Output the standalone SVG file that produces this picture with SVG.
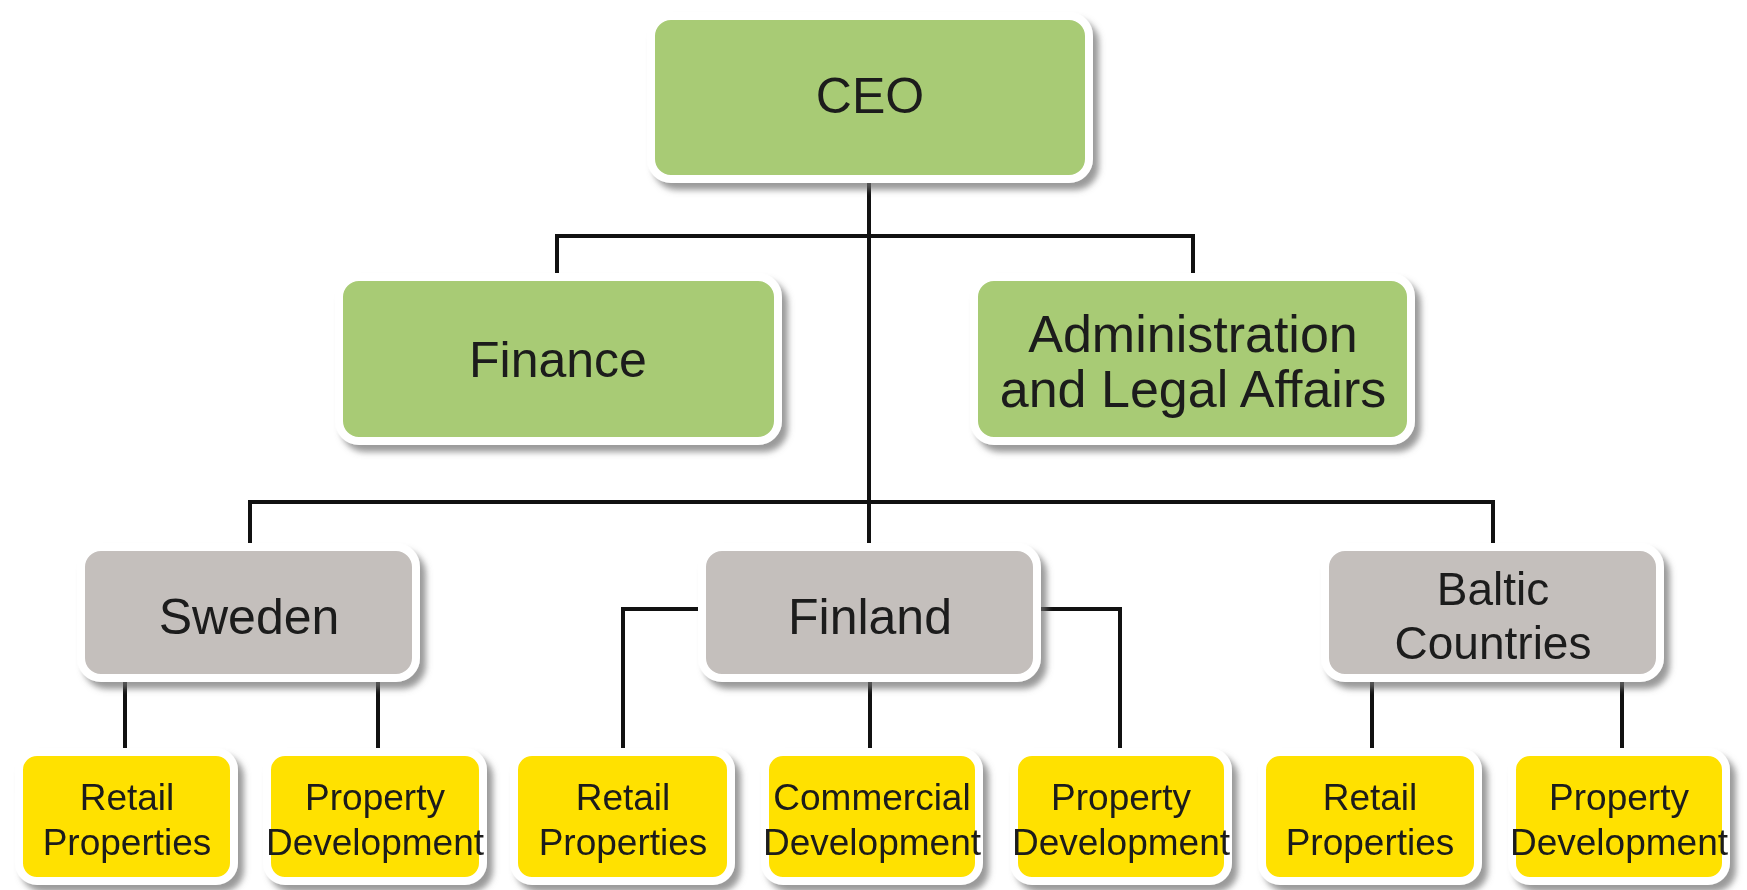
<svg xmlns="http://www.w3.org/2000/svg" width="1747" height="890" viewBox="0 0 1747 890">
<style>
.lbl{font-family:"Liberation Sans",Arial,sans-serif;fill:#1a1a1a;text-anchor:middle}
.big{font-size:50px}
.sm{font-size:37px}
.box{stroke:#ffffff;stroke-width:8}
.g{fill:#a8cb74}
.gr{fill:#c4bfbc}
.y{fill:#ffe100}
.con{fill:none;stroke:#111111;stroke-width:4;stroke-linecap:square}
</style>
<defs>
<filter id="sh" x="-10%" y="-10%" width="125%" height="130%">
<feDropShadow dx="6" dy="7" stdDeviation="3" flood-color="#6e6e6e" flood-opacity="0.7"/>
</filter>
</defs>
<rect width="1747" height="890" fill="#ffffff"/>
<g id="connectors">
<path class="con" d="M869 183 V543"/>
<path class="con" d="M557 273 V236 H1193 V273"/>
<path class="con" d="M250 543 V502 H1493 V543"/>
<path class="con" d="M125 682 V748 M378 682 V748"/>
<path class="con" d="M698 609 H623 V748 M1041 609 H1120 V748 M870 682 V748"/>
<path class="con" d="M1372 682 V748 M1622 682 V748"/>
</g>
<g id="ceo" filter="url(#sh)">
<rect class="box g" x="651" y="16" width="438" height="163" rx="20"/>
<text class="lbl big" x="870" y="113">CEO</text>
</g>
<g id="finance" filter="url(#sh)">
<rect class="box g" x="339" y="277" width="439" height="164" rx="20"/>
<text class="lbl big" x="558" y="377">Finance</text>
</g>
<g id="admin" filter="url(#sh)">
<rect class="box g" x="974" y="277" width="437" height="164" rx="20"/>
<text class="lbl" style="font-size:52px" x="1193" y="352">Administration</text>
<text class="lbl" style="font-size:52px" x="1193" y="407">and Legal Affairs</text>
</g>
<g id="sweden" filter="url(#sh)">
<rect class="box gr" x="81" y="547" width="335" height="131" rx="20"/>
<text class="lbl big" x="249" y="634">Sweden</text>
</g>
<g id="finland" filter="url(#sh)">
<rect class="box gr" x="702" y="547" width="335" height="131" rx="20"/>
<text class="lbl big" x="870" y="634">Finland</text>
</g>
<g id="baltic" filter="url(#sh)">
<rect class="box gr" x="1325" y="547" width="335" height="131" rx="20"/>
<text class="lbl" style="font-size:46px" x="1493" y="605">Baltic</text>
<text class="lbl" style="font-size:46px" x="1493" y="659">Countries</text>
</g>
<g id="se-retail" filter="url(#sh)">
<rect class="box y" x="19" y="752" width="215" height="129" rx="18"/>
<text class="lbl sm" x="127" y="810">Retail</text>
<text class="lbl sm" x="127" y="855">Properties</text>
</g>
<g id="se-property" filter="url(#sh)">
<rect class="box y" x="267" y="752" width="216" height="129" rx="18"/>
<text class="lbl sm" x="375" y="810">Property</text>
<text class="lbl sm" x="375" y="855">Development</text>
</g>
<g id="fi-retail" filter="url(#sh)">
<rect class="box y" x="514" y="752" width="217" height="129" rx="18"/>
<text class="lbl sm" x="623" y="810">Retail</text>
<text class="lbl sm" x="623" y="855">Properties</text>
</g>
<g id="fi-commercial" filter="url(#sh)">
<rect class="box y" x="765" y="752" width="214" height="129" rx="18"/>
<text class="lbl sm" x="872" y="810">Commercial</text>
<text class="lbl sm" x="872" y="855">Development</text>
</g>
<g id="fi-property" filter="url(#sh)">
<rect class="box y" x="1014" y="752" width="214" height="129" rx="18"/>
<text class="lbl sm" x="1121" y="810">Property</text>
<text class="lbl sm" x="1121" y="855">Development</text>
</g>
<g id="bc-retail" filter="url(#sh)">
<rect class="box y" x="1262" y="752" width="216" height="129" rx="18"/>
<text class="lbl sm" x="1370" y="810">Retail</text>
<text class="lbl sm" x="1370" y="855">Properties</text>
</g>
<g id="bc-property" filter="url(#sh)">
<rect class="box y" x="1512" y="752" width="214" height="129" rx="18"/>
<text class="lbl sm" x="1619" y="810">Property</text>
<text class="lbl sm" x="1619" y="855">Development</text>
</g>
</svg>
